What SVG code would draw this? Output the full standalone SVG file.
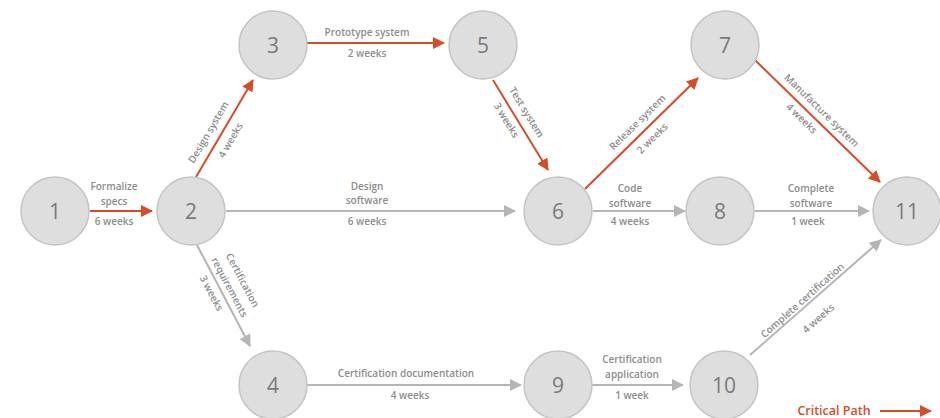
<svg xmlns="http://www.w3.org/2000/svg" width="940" height="418" viewBox="0 0 940 418">
<defs>
<style>
.node circle{fill:#dedede;stroke:#c4c4c4;stroke-width:1.5}
.node text{font-family:"Open Sans","Noto Sans",sans-serif;font-size:21px;fill:#7a7a7a;text-anchor:middle;dominant-baseline:central}
.lbl{font-family:"Open Sans","Noto Sans",sans-serif;font-size:10px;font-weight:600;fill:#8c8c8c;text-anchor:middle}
.rl{dominant-baseline:central}
.crit{stroke:#d84b27;stroke-width:2;fill:none}
.norm{stroke:#b5b5b5;stroke-width:2;fill:none}
</style>
<marker id="ar" viewBox="0 0 12 12" refX="11" refY="6" markerWidth="12" markerHeight="12" markerUnits="userSpaceOnUse" orient="auto"><path d="M0,0 L12,6 L0,12 Z" fill="#d84b27"/></marker>
<marker id="ag" viewBox="0 0 12 12" refX="11" refY="6" markerWidth="12" markerHeight="12" markerUnits="userSpaceOnUse" orient="auto"><path d="M0,0 L12,6 L0,12 Z" fill="#b5b5b5"/></marker>
</defs>
<rect width="940" height="418" fill="#ffffff"/>
<g id="connectors">
<line class="crit" x1="90" y1="211" x2="152" y2="211" marker-end="url(#ar)"/>
<line class="crit" x1="196" y1="177" x2="253" y2="80" marker-end="url(#ar)"/>
<line class="crit" x1="307" y1="43" x2="444" y2="43" marker-end="url(#ar)"/>
<line class="crit" x1="493" y1="80" x2="548" y2="170" marker-end="url(#ar)"/>
<line class="crit" x1="585" y1="189" x2="698" y2="78" marker-end="url(#ar)"/>
<line class="crit" x1="755" y1="60" x2="880" y2="182" marker-end="url(#ar)"/>
<line class="norm" x1="226" y1="211" x2="515" y2="211" marker-end="url(#ag)"/>
<line class="norm" x1="593" y1="211" x2="685" y2="211" marker-end="url(#ag)"/>
<line class="norm" x1="755" y1="211" x2="869" y2="211" marker-end="url(#ag)"/>
<line class="norm" x1="197" y1="245" x2="250" y2="346" marker-end="url(#ag)"/>
<line class="norm" x1="307" y1="385" x2="521" y2="385" marker-end="url(#ag)"/>
<line class="norm" x1="592" y1="385" x2="683" y2="385" marker-end="url(#ag)"/>
<line class="norm" x1="750" y1="355" x2="881" y2="240" marker-end="url(#ag)"/>
<text class="lbl" x="114" y="190">Formalize</text>
<text class="lbl" x="114" y="205">specs</text>
<text class="lbl" x="114" y="225">6 weeks</text>
<text class="lbl rl" transform="translate(208,132) rotate(-59.6)">Design system</text>
<text class="lbl rl" transform="translate(230,140) rotate(-59.6)">4 weeks</text>
<text class="lbl" x="367" y="36">Prototype system</text>
<text class="lbl" x="367" y="57">2 weeks</text>
<text class="lbl rl" transform="translate(527,112) rotate(58.6)">Test system</text>
<text class="lbl rl" transform="translate(507,120) rotate(58.6)">3 weeks</text>
<text class="lbl rl" transform="translate(637,122) rotate(-44.5)">Release system</text>
<text class="lbl rl" transform="translate(652,138) rotate(-44.5)">2 weeks</text>
<text class="lbl rl" transform="translate(822,110) rotate(44.3)">Manufacture system</text>
<text class="lbl rl" transform="translate(802,118) rotate(44.3)">4 weeks</text>
<text class="lbl" x="367" y="190">Design</text>
<text class="lbl" x="367" y="204">software</text>
<text class="lbl" x="367" y="225">6 weeks</text>
<text class="lbl" x="630" y="192">Code</text>
<text class="lbl" x="630" y="207">software</text>
<text class="lbl" x="630" y="225">4 weeks</text>
<text class="lbl" x="811" y="192">Complete</text>
<text class="lbl" x="811" y="207">software</text>
<text class="lbl" x="808" y="225">1 week</text>
<text class="lbl rl" transform="translate(243,280) rotate(62)">Certification</text>
<text class="lbl rl" transform="translate(230,287) rotate(62)">requirements</text>
<text class="lbl rl" transform="translate(212,293) rotate(62)">3 weeks</text>
<text class="lbl" x="406" y="377">Certification documentation</text>
<text class="lbl" x="410" y="399">4 weeks</text>
<text class="lbl" x="632" y="363">Certification</text>
<text class="lbl" x="632" y="378">application</text>
<text class="lbl" x="632" y="399">1 week</text>
<text class="lbl rl" transform="translate(802,300) rotate(-41.5)">Complete certification</text>
<text class="lbl rl" transform="translate(818,318) rotate(-41.5)">4 weeks</text>
</g>
<g id="n1" class="node"><circle cx="55" cy="211" r="34"/><text x="55" y="211">1</text></g>
<g id="n2" class="node"><circle cx="191" cy="211" r="34"/><text x="191" y="211">2</text></g>
<g id="n3" class="node"><circle cx="273" cy="45" r="34"/><text x="273" y="45">3</text></g>
<g id="n5" class="node"><circle cx="483" cy="45" r="34"/><text x="483" y="45">5</text></g>
<g id="n7" class="node"><circle cx="725" cy="45" r="34"/><text x="725" y="45">7</text></g>
<g id="n6" class="node"><circle cx="558" cy="211" r="34"/><text x="558" y="211">6</text></g>
<g id="n8" class="node"><circle cx="720" cy="211" r="34"/><text x="720" y="211">8</text></g>
<g id="n11" class="node"><circle cx="907" cy="211" r="34"/><text x="907" y="211">11</text></g>
<g id="n4" class="node"><circle cx="273" cy="385" r="34"/><text x="273" y="385">4</text></g>
<g id="n9" class="node"><circle cx="558" cy="385" r="34"/><text x="558" y="385">9</text></g>
<g id="n10" class="node"><circle cx="724" cy="385" r="34"/><text x="724" y="385">10</text></g>
<g id="legend">
<text x="834" y="415" font-family="'Open Sans','Noto Sans',sans-serif" font-size="12.5" font-weight="600" fill="#d84b27" text-anchor="middle">Critical Path</text>
<line class="crit" x1="880" y1="411" x2="931" y2="411" marker-end="url(#ar)"/>
</g>
</svg>
